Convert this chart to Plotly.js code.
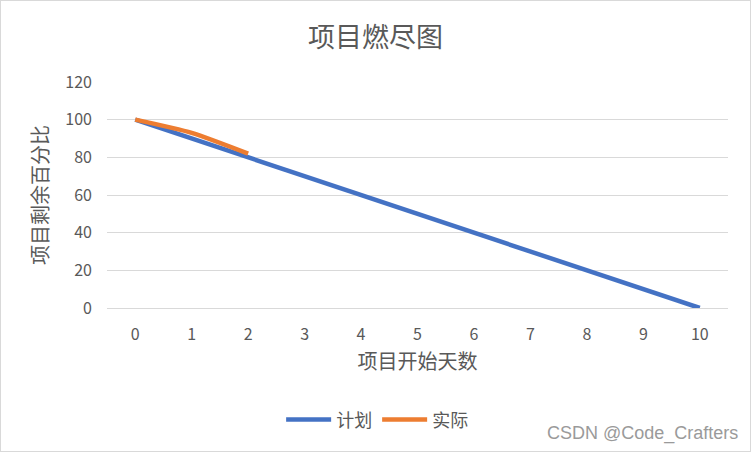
<!DOCTYPE html>
<html>
<head>
<meta charset="utf-8">
<script src="https://cdn.plot.ly/plotly-3.0.1.min.js"></script>
<style>
  html, body { margin: 0; padding: 0; background: #fff; }
  #chart { width: 751px; height: 452px; box-sizing: border-box; border: 1px solid #d9d9d9; }
</style>
</head>
<body>
<div id="chart"></div>
<script>
const days = ['0', '1', '2', '3', '4', '5', '6', '7', '8', '9', '10'];
const planned = [100, 90, 80, 70, 60, 50, 40, 30, 20, 10, 0];
const actualDays = ['0', '1', '2'];
const actual = [100, 93, 82];
const yTicks = [0, 20, 40, 60, 80, 100, 120];

const font = 'Microsoft YaHei, "Noto Sans CJK SC", sans-serif';
const grey = '#595959';

const plan = {
  name: '计划',
  x: days,
  y: planned,
  type: 'scatter',
  mode: 'lines',
  line: { color: '#4472C4', width: 4.5 }
};

const real = {
  name: '实际',
  x: actualDays,
  y: actual,
  type: 'scatter',
  mode: 'lines',
  line: { color: '#ED7D31', width: 4.5, shape: 'spline', smoothing: 0.6 }
};

const layout = {
  width: 749,
  height: 450,
  title: {
    text: '项目燃尽图',
    font: { family: font, size: 27, color: grey },
    x: 0.5,
    y: 0.94
  },
  xaxis: {
    type: 'category',
    range: [-0.5, 10.5],
    showgrid: false,
    showline: true,
    linecolor: '#d9d9d9',
    ticks: '',
    ticklabelstandoff: 12,
    tickfont: { family: font, size: 16, color: grey },
    title: { text: '项目开始天数', font: { family: font, size: 20, color: grey }, standoff: 10 }
  },
  yaxis: {
    range: [0, 120],
    tickvals: yTicks,
    gridcolor: '#d9d9d9',
    zeroline: false,
    ticks: '',
    ticklabelstandoff: 14,
    tickfont: { family: font, size: 16, color: grey },
    title: { text: '项目剩余百分比', font: { family: font, size: 20, color: grey }, standoff: 11 }
  },
  legend: {
    orientation: 'h',
    x: 0.435,
    xanchor: 'center',
    y: -0.495,
    yanchor: 'middle',
    itemwidth: 45,
    font: { family: font, size: 18, color: grey }
  },
  annotations: [{
    text: 'CSDN @Code_Crafters',
    xref: 'paper', yref: 'paper',
    x: 1.02, y: -0.555,
    xanchor: 'right', yanchor: 'middle',
    showarrow: false,
    font: { family: 'Arial, "Liberation Sans", sans-serif', size: 18, color: '#9a9a9a' }
  }],
  paper_bgcolor: 'white',
  plot_bgcolor: 'white',
  margin: { t: 81, b: 143, l: 106, r: 22 },
  showlegend: true
};

Plotly.newPlot('chart', [plan, real], layout, { displayModeBar: false });
</script>
</body>
</html>
